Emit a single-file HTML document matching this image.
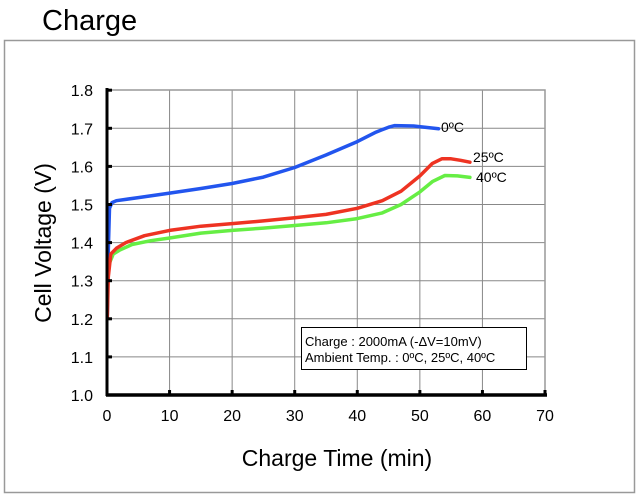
<!DOCTYPE html>
<html><head><meta charset="utf-8"><style>
html,body{margin:0;padding:0;background:#fff;}
svg{display:block;font-family:"Liberation Sans",Arial,sans-serif;}
</style></head><body>
<svg id="s" width="638" height="495" viewBox="0 0 638 495" xmlns="http://www.w3.org/2000/svg">
<rect x="0" y="0" width="638" height="495" fill="#fff"/>
<text x="42" y="30" font-size="29">Charge</text>
<rect x="4.5" y="40.5" width="630" height="452" fill="none" stroke="#999" stroke-width="1.5"/>
<g id="grid" stroke="#888" stroke-width="1"></g>
<rect x="107" y="90" width="438" height="305" fill="none" stroke="#999" stroke-width="1.5"/>
<g id="curves" fill="none" stroke-width="3.5" stroke-linejoin="round" stroke-linecap="round"></g>
<line x1="107" y1="88" x2="107" y2="396" stroke="#000" stroke-width="3"/>
<line x1="106" y1="395" x2="547" y2="395" stroke="#000" stroke-width="3.5"/>
<g id="labels" font-size="16"></g>
<text x="441" y="132" font-size="14">0ºC</text>
<text x="473" y="162" font-size="14">25ºC</text>
<text x="476" y="182" font-size="14">40ºC</text>
<rect x="301.5" y="327.5" width="225" height="42" fill="#fff" stroke="#000" stroke-width="1"/>
<text x="305" y="346" font-size="13">Charge : 2000mA (-ΔV=10mV)</text>
<text x="305" y="362" font-size="13">Ambient Temp. : 0ºC, 25ºC, 40ºC</text>
<text x="337" y="466" font-size="23" text-anchor="middle">Charge Time (min)</text>
<text transform="translate(51,243) rotate(-90)" font-size="23" text-anchor="middle">Cell Voltage (V)</text>
</svg>
<script>
var X=function(t){return 107+t*438/70}, Y=function(v){return 395-(v-1)*381};
var ns="http://www.w3.org/2000/svg";
function el(p,n,a,txt){var e=document.createElementNS(ns,n);for(var k in a)e.setAttribute(k,a[k]);if(txt!==undefined)e.textContent=txt;p.appendChild(e);return e;}
var g=document.getElementById('grid'),L=document.getElementById('labels');
for(var i=1;i<7;i++)el(g,'line',{x1:X(i*10),x2:X(i*10),y1:90,y2:395});
for(var j=1;j<8;j++)el(g,'line',{x1:107,x2:545,y1:Y(1+j/10),y2:Y(1+j/10)});
for(var i=0;i<=8;i++){var v=1+i/10;el(L,'text',{x:93,y:Y(v)+6,'text-anchor':'end'},v.toFixed(1));el(L,'line',{x1:107,x2:112,y1:Y(v),y2:Y(v),stroke:'#000','stroke-width':3});}
for(var i=0;i<=7;i++){el(L,'text',{x:X(i*10),y:421,'text-anchor':'middle'},String(i*10));el(L,'line',{x1:X(i*10),x2:X(i*10),y1:390,y2:395,stroke:'#000','stroke-width':3});}
var C=document.getElementById('curves');
function P(pts,c){var d=pts.map(function(p,i){return (i?'L':'M')+X(p[0]).toFixed(1)+' '+Y(p[1]).toFixed(1)}).join(' ');el(C,'path',{d:d,stroke:c});}
P([[0.05,1.21],[0.2,1.38],[0.4,1.49],[0.8,1.505],[1.5,1.51],[5,1.518],[10,1.53],[15,1.542],[20,1.555],[25,1.572],[30,1.597],[35,1.63],[40,1.665],[43,1.69],[45,1.703],[46,1.707],[49,1.706],[53,1.699]],'#2255ee');
P([[0.5,1.35],[1,1.37],[2,1.38],[4,1.395],[7,1.405],[10,1.412],[15,1.425],[20,1.432],[25,1.438],[30,1.445],[35,1.452],[40,1.463],[44,1.478],[47,1.5],[50,1.533],[52,1.56],[54,1.576],[56,1.575],[58,1.571]],'#66ee44');
P([[0.05,1.2],[0.2,1.31],[0.6,1.37],[1.5,1.385],[3,1.4],[6,1.418],[10,1.432],[15,1.443],[20,1.45],[25,1.457],[30,1.465],[35,1.474],[40,1.49],[44,1.51],[47,1.535],[50,1.575],[52,1.608],[53.5,1.62],[55,1.62],[56.5,1.616],[58,1.611]],'#ee3322');
</script>
</body></html>
